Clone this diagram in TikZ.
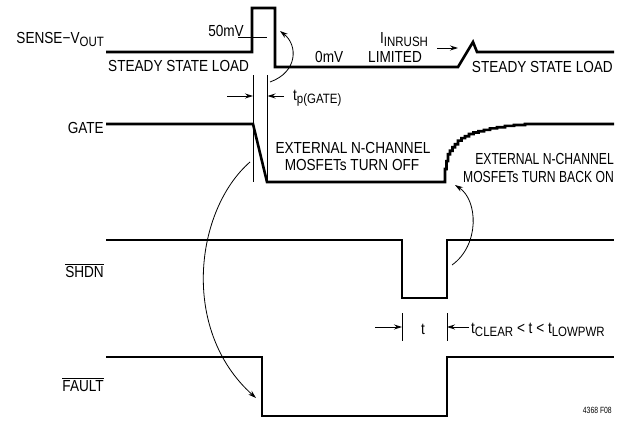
\documentclass[tikz,border=0pt]{standalone}
\usepackage{fontspec}
\setmainfont[FakeStretch=0.85]{Liberation Sans}
\newfontfamily\narrowfont[FakeStretch=0.76]{Liberation Sans}
\usetikzlibrary{arrows.meta}
\newcommand{\lowsub}[1]{\raisebox{-3pt}{\fontsize{13.5}{14}\selectfont #1}}
\begin{document}
\begin{tikzpicture}[x=1pt,y=-1pt,
  wave/.style={line width=2.6pt, line join=miter},
  guide/.style={line width=0.8pt},
  lbl/.style={inner sep=0pt, font=\fontsize{16}{18}\selectfont},
  nlbl/.style={inner sep=0pt, font=\fontsize{16}{18}\selectfont\narrowfont},
  tip/.style={-{Stealth[length=8pt,width=5pt]}}]
\useasboundingbox (0,0) rectangle (624,423);

% waveforms
\draw[wave] (106,52) -- (252,52) -- (252,8) -- (275,8) -- (275,67) -- (458,67) -- (473,42) -- (477,52) -- (614,52);
\draw[wave] (106,124) -- (253,124) -- (267,182) -- (445,182)
  |- (446.5,169) |- (448,161.1) |- (450,154.2) |- (452.5,150.7) |- (455,147.2)
  |- (458,144.2) |- (461.5,140.6) |- (465,138.1) |- (469,136.2) |- (473.5,134)
  |- (478.5,132.5) |- (484,131.2) |- (490,129.8) |- (497,128.4) |- (505,127.2)
  |- (514,125.9) |- (525,125) |- (538,124) -- (614,124);
\draw[wave] (106,240) -- (402,240) -- (402,298) -- (447,298) -- (447,240) -- (614,240);
\draw[wave] (106,357) -- (262,357) -- (262,416) -- (447,416) -- (447,357) -- (614,357);

% guides
\coordinate (g1t) at (253,75);   \coordinate (g1b) at (253,182);
\coordinate (g2t) at (267.5,75); \coordinate (g2b) at (267.5,182);
\draw[guide] (g1t) -- (g1b);
\draw[guide] (g2t) -- (g2b);
\coordinate (fa) at (238,37.5); \coordinate (fb) at (267,37.5);
\draw[guide] (fa) -- (fb);
\coordinate (ta1) at (227,96); \coordinate (ta2) at (253,96);
\coordinate (tb1) at (284,96); \coordinate (tb2) at (267.5,96);
\draw[guide,tip] (ta1) -- (ta2);
\draw[guide,tip] (tb1) -- (tb2);

\coordinate (k1t) at (402,313); \coordinate (k1b) at (402,341);
\coordinate (k2t) at (447,313); \coordinate (k2b) at (447,341);
\draw[guide] (k1t) -- (k1b);
\draw[guide] (k2t) -- (k2b);
\coordinate (ka1) at (375,327); \coordinate (ka2) at (402,327);
\coordinate (kb1) at (469,327); \coordinate (kb2) at (447,327);
\draw[guide,tip] (ka1) -- (ka2);
\draw[guide,tip] (kb1) -- (kb2);

\coordinate (ia) at (437,48); \coordinate (ib) at (458,48);
\draw[guide,tip] (ia) -- (ib);

% curved arrows
\coordinate (c1s) at (270,82); \coordinate (c1e) at (280,31);
\draw[guide,tip] (c1s) .. controls (298,72) and (298,45) .. (c1e);
\coordinate (c2s) at (250,162); \coordinate (c2e) at (256,398);
\draw[guide,tip] (c2s) .. controls (195,210) and (180,330) .. (c2e);
\coordinate (c3s) at (452,265); \coordinate (c3e) at (455,185);
\draw[guide,tip] (c3s) .. controls (480,245) and (478,200) .. (c3e);

% labels
\node[lbl,anchor=base east] (senseL) at (104,43) {SENSE−V\lowsub{OUT}};
\node[lbl,anchor=base east] (fifty) at (244,36) {50mV};
\node[lbl,anchor=base west] (ssl1) at (108,71) {STEADY STATE LOAD};
\node[lbl,anchor=base west] (zero) at (315,62) {0mV};
\node[lbl,anchor=base west] (inrush) at (380,43) {I\lowsub{INRUSH}};
\node[lbl,anchor=base west] (limited) at (368,62) {LIMITED};
\node[lbl,anchor=base east] (ssl2) at (613,72) {STEADY STATE LOAD};
\node[lbl,anchor=base west] (tpg) at (293,100) {t\lowsub{p(GATE)}};
\node[lbl,anchor=base east] (gateL) at (104,133) {GATE};
\node[lbl,anchor=base] (off1) at (353,153) {EXTERNAL N-CHANNEL};
\node[lbl,anchor=base] (off2) at (352,170) {MOSFETs TURN OFF};
\node[nlbl,anchor=base east] (on1) at (614,164) {EXTERNAL N-CHANNEL};
\node[nlbl,anchor=base east] (on2) at (614,182) {MOSFETs TURN BACK ON};
\node[lbl,anchor=base east] (shdnL) at (104,277) {$\overline{\hbox{SHDN}}$};
\node[lbl,anchor=base east] (faultL) at (104,391) {$\overline{\hbox{FAULT}}$};
\node[lbl,anchor=base] (tL) at (423,334) {t};
\node[lbl,anchor=base west] (tcl) at (471,333) {t\lowsub{CLEAR} < t < t\lowsub{LOWPWR}};
\node[inner sep=0pt,anchor=base east,font=\fontsize{9}{10}\selectfont\narrowfont] (fig) at (612,413) {4368 F08};
\end{tikzpicture}
\end{document}
